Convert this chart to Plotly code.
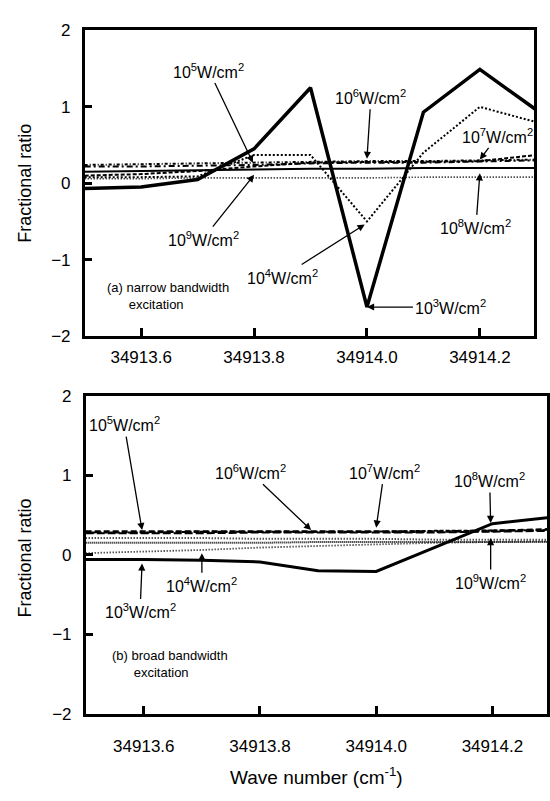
import plotly.graph_objects as go

# Wave number grid (cm^-1)
wavenumber = [34913.5, 34913.6, 34913.7, 34913.8, 34913.9, 34914.0, 34914.1, 34914.2, 34914.3]
intensity_labels = ["10<sup>3</sup>W/cm<sup>2</sup>", "10<sup>4</sup>W/cm<sup>2</sup>",
                    "10<sup>5</sup>W/cm<sup>2</sup>", "10<sup>6</sup>W/cm<sup>2</sup>",
                    "10<sup>7</sup>W/cm<sup>2</sup>", "10<sup>8</sup>W/cm<sup>2</sup>",
                    "10<sup>9</sup>W/cm<sup>2</sup>"]

# (a) narrow bandwidth excitation
narrow_1e3 = [-0.07, -0.05, 0.05, 0.45, 1.25, -1.62, 0.93, 1.49, 0.96]
narrow_1e4 = [0.08, 0.08, 0.09, 0.37, 0.37, -0.50, 0.40, 1.00, 0.80]
narrow_1e5 = [0.22, 0.22, 0.23, 0.24, 0.26, 0.27, 0.27, 0.28, 0.30]
narrow_1e6 = [0.24, 0.25, 0.26, 0.27, 0.28, 0.29, 0.29, 0.30, 0.31]
narrow_1e7 = [0.10, 0.12, 0.16, 0.22, 0.27, 0.28, 0.28, 0.29, 0.37]
narrow_1e8 = [0.15, 0.16, 0.17, 0.18, 0.19, 0.19, 0.20, 0.20, 0.20]
narrow_1e9 = [0.06, 0.06, 0.07, 0.07, 0.07, 0.07, 0.08, 0.08, 0.08]

# (b) broad bandwidth excitation
broad_1e3 = [-0.06, -0.06, -0.07, -0.09, -0.20, -0.21, 0.09, 0.39, 0.47]
broad_1e4 = [0.02, 0.04, 0.06, 0.09, 0.11, 0.13, 0.15, 0.16, 0.17]
broad_1e5 = [0.29, 0.29, 0.29, 0.29, 0.29, 0.29, 0.29, 0.30, 0.32]
broad_1e6 = [0.27, 0.27, 0.27, 0.28, 0.28, 0.28, 0.28, 0.29, 0.30]
broad_1e7 = [0.28, 0.28, 0.29, 0.29, 0.29, 0.29, 0.30, 0.30, 0.31]
broad_1e8 = [0.21, 0.21, 0.21, 0.20, 0.20, 0.20, 0.19, 0.19, 0.19]
broad_1e9 = [0.15, 0.15, 0.15, 0.15, 0.16, 0.16, 0.16, 0.16, 0.16]

x_ticks = [34913.6, 34913.8, 34914.0, 34914.2]
x_ticktext = ["34913.6", "34913.8", "34914.0", "34914.2"]
y_ticks = [-2, -1, 0, 1, 2]

W, H = 550, 801
FONT = "Liberation Sans, Arial, Helvetica, sans-serif"

narrow_series = [narrow_1e3, narrow_1e4, narrow_1e5, narrow_1e6, narrow_1e7, narrow_1e8, narrow_1e9]
broad_series = [broad_1e3, broad_1e4, broad_1e5, broad_1e6, broad_1e7, broad_1e8, broad_1e9]

narrow_styles = [
    dict(width=3.5, dash="solid"),
    dict(width=2, dash="2px,2px"),
    dict(width=2, dash="6px,3px,2px,3px"),
    dict(width=2, dash="3px,2px,1px,2px"),
    dict(width=2, dash="4px,2px"),
    dict(width=2, dash="solid"),
    dict(width=1.6, dash="1px,2px"),
]
broad_styles = [
    dict(width=3, dash="solid"),
    dict(width=1.8, dash="1px,2px"),
    dict(width=2.6, dash="6px,3px"),
    dict(width=2, dash="8px,3px"),
    dict(width=2, dash="4px,2px"),
    dict(width=2, dash="1px,2px"),
    dict(width=2, dash="1px,1px"),
]

fig = go.Figure()
for ys, st, name in zip(narrow_series, narrow_styles, intensity_labels):
    fig.add_trace(go.Scatter(x=wavenumber, y=ys, mode="lines", name=name,
                             line=dict(color="black", **st), xaxis="x", yaxis="y",
                             showlegend=False))
for ys, st, name in zip(broad_series, broad_styles, intensity_labels):
    fig.add_trace(go.Scatter(x=wavenumber, y=ys, mode="lines", name=name,
                             line=dict(color="black", **st), xaxis="x2", yaxis="y2",
                             showlegend=False))

axis_common = dict(
    showline=True, mirror=True, linecolor="black", linewidth=2.5,
    ticks="inside", ticklen=8, tickwidth=2.5, tickcolor="black",
    showgrid=False, zeroline=False,
    tickfont=dict(family=FONT, size=17, color="black"),
)

fig.update_layout(
    width=W, height=H,
    margin=dict(l=0, r=0, t=0, b=0),
    paper_bgcolor="white", plot_bgcolor="white",
    xaxis=dict(domain=[85 / W, 536 / W], range=[34913.5, 34914.296], anchor="y",
               tickvals=x_ticks, ticktext=x_ticktext, ticklabelstandoff=4, **axis_common),
    yaxis=dict(domain=[1 - 335 / H, 1 - 22 / H], range=[-2, 2], anchor="x",
               tickvals=y_ticks, ticklabelstandoff=8, **axis_common),
    xaxis2=dict(domain=[86 / W, 549 / W], range=[34913.5, 34914.294], anchor="y2",
                tickvals=x_ticks, ticktext=x_ticktext, ticklabelstandoff=15, **axis_common),
    yaxis2=dict(domain=[1 - 722 / H, 1 - 396 / H], range=[-2, 2], anchor="x2",
                tickvals=y_ticks, ticklabelstandoff=8, **axis_common),
)

ann_font = dict(family=FONT, size=16, color="black")


def label(text, x, y, ax, ay, xref, yref):
    return dict(text=text, x=x, y=y, xref=xref, yref=yref, ax=ax, ay=ay,
                showarrow=True, arrowhead=2, arrowsize=1.1, arrowwidth=1.3,
                arrowcolor="black", font=ann_font, standoff=0, startstandoff=1)


annotations = [
    # (a) labels
    label(intensity_labels[2], 34913.798, 0.27, -44, -92, "x", "y"),
    label(intensity_labels[3], 34914.0, 0.32, 4, -62, "x", "y"),
    label(intensity_labels[4], 34914.2, 0.31, 18, -24, "x", "y"),
    label(intensity_labels[5], 34914.2, 0.13, -4, 54, "x", "y"),
    label(intensity_labels[6], 34913.8, 0.11, -51, 64, "x", "y"),
    label(intensity_labels[1], 34913.996, -0.54, -82, 52, "x", "y"),
    label(intensity_labels[0], 34914.0, -1.62, 84, 0, "x", "y"),
    # (b) labels
    label(intensity_labels[2], 34913.597, 0.31, -18, -106, "x2", "y2"),
    label(intensity_labels[3], 34913.888, 0.31, -61, -58, "x2", "y2"),
    label(intensity_labels[4], 34914.0, 0.34, 8, -56, "x2", "y2"),
    label(intensity_labels[5], 34914.197, 0.40, -1, -43, "x2", "y2"),
    label(intensity_labels[6], 34914.197, 0.21, 0, 44, "x2", "y2"),
    label(intensity_labels[1], 34913.70, 0.02, 0, 32, "x2", "y2"),
    label(intensity_labels[0], 34913.597, -0.11, -2, 48, "x2", "y2"),
]

small = dict(family=FONT, size=13, color="black")
indent = "\u00a0" * 6
annotations += [
    dict(text="(a) narrow bandwidth<br>" + indent + "excitation", x=105 / W, y=1 - 294 / H,
         xref="paper", yref="paper", xanchor="left", yanchor="middle", align="left",
         showarrow=False, font=small),
    dict(text="(b) broad bandwidth<br>" + indent + "excitation", x=110 / W, y=1 - 671 / H,
         xref="paper", yref="paper", xanchor="left", yanchor="middle", align="left",
         showarrow=False, font=small),
]

ytitle_font = dict(family="Liberation Sans Narrow, Arial Narrow, " + FONT, size=18, color="black")
annotations += [
    dict(text="Fractional ratio", x=25 / W, y=1 - 178 / H, xref="paper", yref="paper",
         textangle=-90, showarrow=False, font=ytitle_font, xanchor="center", yanchor="middle"),
    dict(text="Fractional ratio", x=25 / W, y=1 - 562 / H, xref="paper", yref="paper",
         textangle=-90, showarrow=False, font=ytitle_font, xanchor="center", yanchor="middle"),
    dict(text="Wave number (cm<sup>-1</sup>)", x=318 / W, y=1 - 786 / H, xref="paper", yref="paper",
         showarrow=False, font=dict(family=FONT, size=19, color="black"),
         xanchor="center", yanchor="middle"),
]

fig.update_layout(annotations=annotations)
fig.write_html("out.html")
